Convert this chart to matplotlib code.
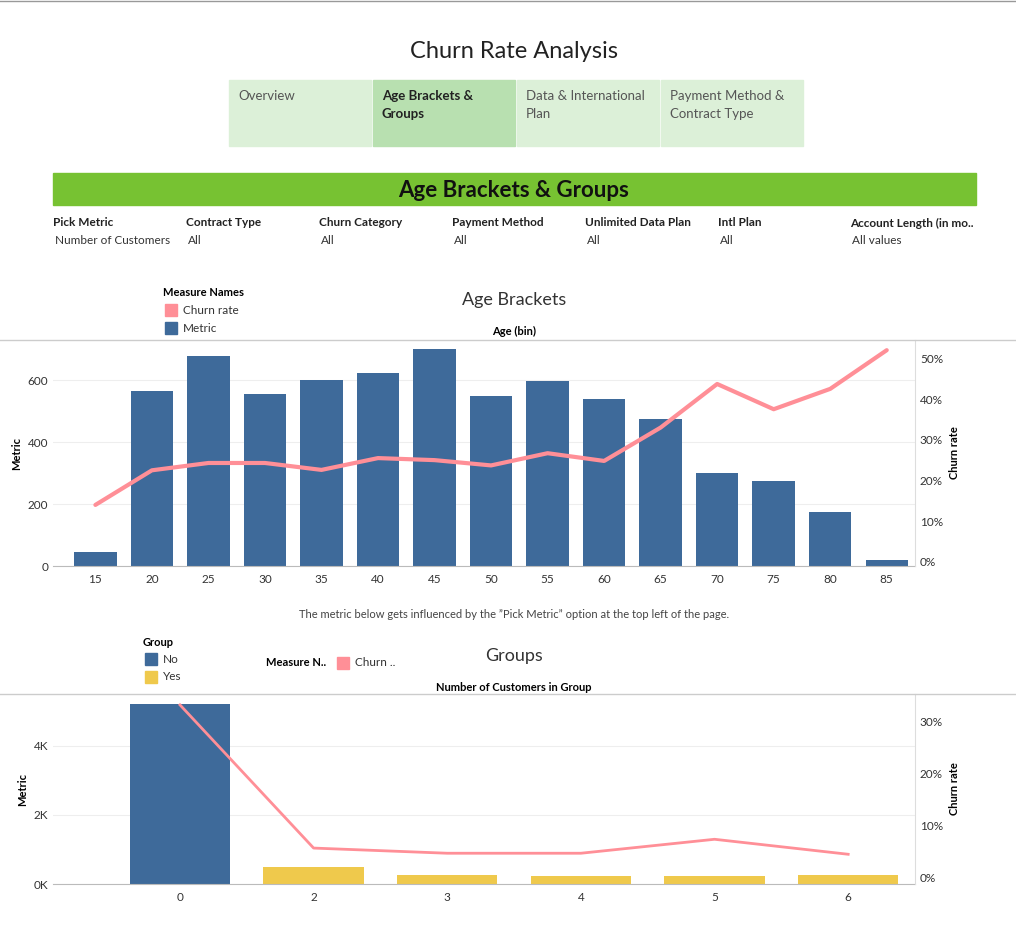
import matplotlib.pyplot as plt
from matplotlib.patches import Rectangle

W, H = 1016, 930

# --- Data ---
ages = ["15", "20", "25", "30", "35", "40", "45", "50", "55", "60", "65", "70", "75", "80", "85"]
age_metric = [45, 565, 678, 555, 600, 623, 700, 548, 597, 539, 474, 302, 276, 175, 20]
age_churn = [14.0, 22.5, 24.3, 24.3, 22.6, 25.5, 25.0, 23.7, 26.7, 24.8, 33.0, 43.7, 37.5, 42.5, 52.0]

groups = ["0", "2", "3", "4", "5", "6"]
group_metric = [5200, 490, 260, 230, 230, 260]
group_flag = ["No", "Yes", "Yes", "Yes", "Yes", "Yes"]
group_churn = [33.3, 5.6, 4.6, 4.6, 7.3, 4.4]

tabs = ["Overview", "Age Brackets &\nGroups", "Data & International\nPlan", "Payment Method &\nContract Type"]
filters = [("Pick Metric", "Number of Customers"), ("Contract Type", "All"),
           ("Churn Category", "All"), ("Payment Method", "All"),
           ("Unlimited Data Plan", "All"), ("Intl Plan", "All"),
           ("Account Length (in mo..", "All values")]
filter_x = [53, 186, 319, 452, 585, 718, 850]

BLUE = "#3e6a9a"
YELLOW = "#efc94c"
PINK = "#ff8f97"
GRID = "#eeeeee"

plt.rcParams['font.family'] = ['Lato', 'DejaVu Sans']
fig = plt.figure(figsize=(W / 100, H / 100), dpi=100)


def fx(x):
    return x / W


def fy(y):
    return 1 - y / H


def axes_px(l, t, r, b):
    return fig.add_axes([fx(l), fy(b), (r - l) / W, (b - t) / H])


fig.add_artist(plt.Line2D([0, 1], [fy(1), fy(1)], color="#999999", lw=1))
fig.text(fx(514), fy(52), "Churn Rate Analysis", ha="center", va="center", fontsize=17, color="#222222")

# tabs
for i, t in enumerate(tabs):
    x0 = 229 + i * 144
    col = "#b8e0b0" if i == 1 else "#dcf0d8"
    fig.add_artist(Rectangle((fx(x0), fy(146)), 142 / W, 66 / H, color=col, transform=fig.transFigure))
    fig.text(fx(x0 + 9), fy(90), t, ha="left", va="top", fontsize=9.5,
             color="#222222" if i == 1 else "#555555", fontweight="bold" if i == 1 else "normal",
             linespacing=1.6)

# banner
fig.add_artist(Rectangle((fx(53), fy(205)), (976 - 53) / W, 32 / H, color="#77c232", transform=fig.transFigure))
fig.text(fx(514), fy(190), "Age Brackets & Groups", ha="center", va="center", fontsize=16, fontweight="bold", color="#111111")

for (lab, val), x in zip(filters, filter_x):
    fig.text(fx(x), fy(223), lab, ha="left", va="center", fontsize=8.5, fontweight="bold", color="#222222")
    fig.text(fx(x + 2), fy(240), val, ha="left", va="center", fontsize=8.5, color="#333333")

# --- Age chart ---
fig.text(fx(163), fy(293), "Measure Names", fontsize=8, fontweight="bold", va="center")
fig.add_artist(Rectangle((fx(165), fy(316)), 12 / W, 12 / H, color=PINK, transform=fig.transFigure))
fig.text(fx(183), fy(310), "Churn rate", fontsize=8.5, va="center", color="#333333")
fig.add_artist(Rectangle((fx(165), fy(334)), 12 / W, 12 / H, color=BLUE, transform=fig.transFigure))
fig.text(fx(183), fy(328), "Metric", fontsize=8.5, va="center", color="#333333")
fig.text(fx(514), fy(300), "Age Brackets", ha="center", va="center", fontsize=13, color="#333333")
fig.text(fx(514), fy(331), "Age (bin)", ha="center", va="center", fontsize=8, fontweight="bold")


def style(ax, ax2):
    for s in ["top", "right", "left"]:
        ax.spines[s].set_visible(False)
    for s in ["top", "left", "bottom"]:
        ax2.spines[s].set_visible(False)
    ax2.spines["right"].set_color("#dddddd")
    ax.spines["bottom"].set_color("#bbbbbb")
    ax.tick_params(axis="y", length=0, labelsize=8.5, colors="#333333")
    ax2.tick_params(axis="y", length=0, labelsize=8.5, colors="#333333")
    ax.tick_params(axis="x", length=0, labelsize=8.5, colors="#333333", pad=6)
    ax.grid(axis="y", color=GRID, lw=0.8)
    ax.set_axisbelow(True)
    ax.set_ylabel("Metric", fontsize=8, fontweight="bold")
    ax2.set_ylabel("Churn rate", fontsize=8, fontweight="bold")


ax = axes_px(53, 340, 915, 566)
ax2 = ax.twinx()
xs = range(len(ages))
ax.bar(xs, age_metric, width=0.75, color=BLUE)
ax2.plot(xs, age_churn, color=PINK, lw=3, solid_capstyle="round")
ax.set_xticks(list(xs), ages)
ax.set_xlim(-0.75, len(ages) - 0.5)
ax.set_ylim(0, 730)
ax.set_yticks([0, 200, 400, 600])
ax2.set_ylim(-1, 54.5)
ax2.set_yticks([0, 10, 20, 30, 40, 50], ["0%", "10%", "20%", "30%", "40%", "50%"])
style(ax, ax2)
fig.add_artist(plt.Line2D([0, 1], [fy(340), fy(340)], color="#cccccc", lw=1))

fig.text(fx(514), fy(614), "The metric below gets influenced by the \u201dPick Metric\u201d option at the top left of the page.",
         ha="center", va="center", fontsize=8, color="#444444")

# --- Groups chart ---
fig.text(fx(143), fy(642), "Group", fontsize=8, fontweight="bold", va="center")
fig.add_artist(Rectangle((fx(145), fy(665)), 12 / W, 12 / H, color=BLUE, transform=fig.transFigure))
fig.text(fx(163), fy(659), "No", fontsize=8.5, va="center", color="#333333")
fig.add_artist(Rectangle((fx(145), fy(683)), 12 / W, 12 / H, color=YELLOW, transform=fig.transFigure))
fig.text(fx(163), fy(677), "Yes", fontsize=8.5, va="center", color="#333333")
fig.text(fx(266), fy(663), "Measure N..", fontsize=8, fontweight="bold", va="center")
fig.add_artist(Rectangle((fx(337), fy(669)), 12 / W, 12 / H, color=PINK, transform=fig.transFigure))
fig.text(fx(355), fy(663), "Churn ..", fontsize=8.5, va="center", color="#333333")
fig.text(fx(514), fy(656), "Groups", ha="center", va="center", fontsize=13, color="#333333")
fig.text(fx(514), fy(687), "Number of Customers in Group", ha="center", va="center", fontsize=8, fontweight="bold")

bx = axes_px(53, 694, 915, 884)
bx2 = bx.twinx()
gx = range(len(groups))
cols = [BLUE if g == "No" else YELLOW for g in group_flag]
bx.bar(gx, group_metric, width=0.75, color=cols)
bx2.plot(gx, group_churn, color=PINK, lw=2)
bx.set_xticks(list(gx), groups)
bx.set_xlim(-0.95, len(groups) - 0.5)
bx.set_ylim(0, 5500)
bx.set_yticks([0, 2000, 4000], ["0K", "2K", "4K"])
bx2.set_ylim(-1.35, 35.4)
bx2.set_yticks([0, 10, 20, 30], ["0%", "10%", "20%", "30%"])
style(bx, bx2)
fig.add_artist(plt.Line2D([0, 1], [fy(694), fy(694)], color="#cccccc", lw=1))

fig.savefig("out.png", dpi=100)
